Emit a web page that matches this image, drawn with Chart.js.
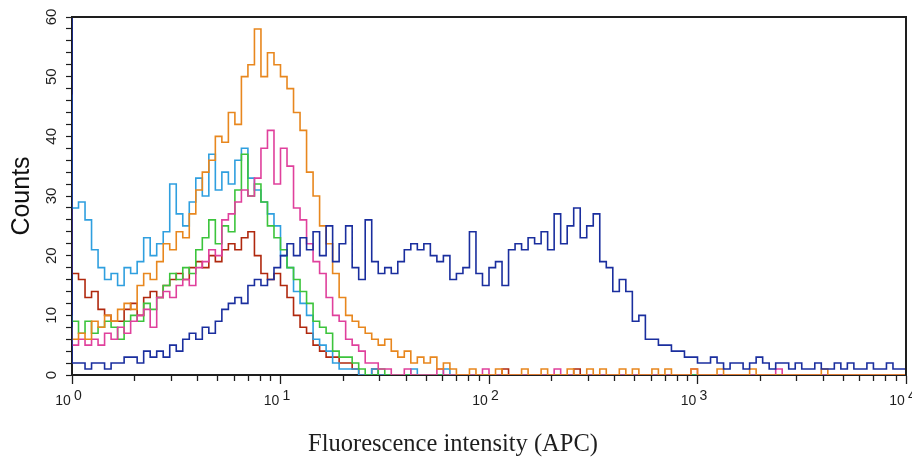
<!DOCTYPE html>
<html>
<head>
<meta charset="utf-8">
<script src="https://cdn.jsdelivr.net/npm/chart.js@4.4.1/dist/chart.umd.min.js"></script>
<style>
  html, body { margin: 0; padding: 0; background: #fff; }
  #wrap { width: 912px; height: 462px; }
</style>
</head>
<body>
<div id="wrap"><canvas id="histo" width="912" height="462"></canvas></div>
<script>
// channels: 32 bins per decade over 4 decades (10^0 .. 10^4)
const binsPerDecade = 32;
const xDecades = [0, 1, 2, 3, 4];
const minorSteps = [2, 3, 4, 5, 6, 7, 8, 9];

// counts per bin (first value = pile-up at 10^0, last = overflow at 10^4)
const navyFirst = 60, navyLast = 5;
const navy = [
  2, 2, 1, 2, 2, 1, 2, 2, 3, 3,
  2, 4, 3, 4, 3, 5, 4, 6, 7, 6,
  8, 7, 9, 11, 12, 13, 12, 15, 16, 15,
  16, 18, 20, 22, 20, 23, 21, 24, 20, 25,
  19, 22, 25, 18, 16, 26, 19, 17, 18, 17,
  19, 21, 22, 21, 22, 20, 19, 20, 16, 17,
  18, 24, 17, 15, 18, 19, 15, 21, 22, 21,
  23, 22, 24, 21, 27, 22, 25, 28, 23, 25,
  27, 19, 18, 14, 16, 14, 9, 10, 6, 6,
  5, 5, 4, 4, 3, 3, 2, 2, 3, 2,
  1, 2, 2, 1, 2, 3, 2, 1, 2, 2,
  1, 2, 1, 1, 2, 1, 1, 2, 1, 2,
  1, 1, 2, 1, 1, 2, 1, 1
];

const skyFirst = 47, skyLast = 0;
const sky = [
  28, 29, 26, 21, 18, 16, 17, 15, 18, 17,
  19, 23, 20, 22, 24, 32, 27, 25, 29, 33,
  30, 37, 31, 34, 32, 36, 38, 33, 31, 29,
  27, 25, 20, 18, 14, 12, 10, 6, 5, 4,
  2, 1, 1, 1, 0, 0, 1, 0, 0, 0,
  0, 0, 1, 0, 0, 0, 0, 1, 0, 0,
  0, 0, 0, 0, 0, 0, 0, 0, 0, 0,
  0, 0, 0, 0, 0, 0, 0, 0, 0, 0,
  0, 0, 0, 0, 0, 0, 0, 0, 0, 0,
  0, 0, 0, 0, 0, 0, 0, 0, 0, 0,
  0, 0, 0, 0, 0, 0, 0, 0, 0, 0,
  0, 0, 0, 0, 0, 0, 0, 0, 0, 0,
  0, 0, 0, 0, 0, 0, 0, 0
];

const orangeFirst = 8, orangeLast = 0;
const orange = [
  6, 7, 6, 9, 8, 10, 9, 11, 12, 11,
  15, 17, 16, 19, 22, 21, 24, 23, 27, 31,
  34, 36, 40, 39, 44, 42, 50, 52, 58, 50,
  54, 52, 50, 48, 44, 41, 34, 30, 25, 22,
  17, 13, 10, 9, 8, 7, 6, 5, 6, 4,
  3, 4, 2, 3, 2, 3, 1, 2, 1, 0,
  0, 1, 0, 0, 0, 1, 0, 0, 0, 1,
  0, 0, 1, 0, 0, 0, 1, 0, 0, 1,
  0, 1, 0, 0, 1, 0, 1, 0, 0, 1,
  0, 1, 0, 0, 0, 1, 0, 0, 0, 1,
  0, 0, 0, 0, 1, 0, 0, 0, 0, 0,
  0, 0, 0, 0, 0, 1, 0, 0, 0, 0,
  0, 0, 0, 0, 0, 0, 0, 0
];

const pinkFirst = 6, pinkLast = 0;
const pink = [
  5, 6, 5, 6, 5, 7, 6, 8, 7, 9,
  10, 11, 8, 13, 14, 13, 15, 16, 15, 18,
  19, 21, 20, 26, 27, 29, 31, 30, 33, 38,
  41, 32, 38, 35, 28, 26, 22, 19, 17, 13,
  10, 9, 6, 5, 4, 2, 2, 1, 1, 0,
  0, 1, 0, 0, 0, 0, 1, 0, 0, 0,
  0, 0, 0, 1, 0, 0, 0, 0, 0, 0,
  0, 0, 0, 0, 1, 0, 0, 0, 0, 0,
  0, 0, 0, 0, 0, 0, 0, 0, 0, 0,
  0, 0, 0, 0, 0, 1, 0, 0, 0, 0,
  0, 0, 0, 0, 0, 0, 0, 0, 1, 0,
  0, 0, 0, 0, 0, 0, 0, 0, 0, 0,
  0, 0, 0, 0, 0, 0, 0, 0
];

const greenFirst = 10, greenLast = 0;
const green = [
  9, 7, 9, 7, 8, 9, 8, 6, 9, 10,
  9, 12, 11, 13, 15, 17, 16, 18, 17, 21,
  23, 26, 22, 25, 24, 31, 37, 30, 32, 29,
  25, 23, 21, 18, 16, 14, 12, 9, 8, 7,
  4, 3, 3, 2, 1, 0, 0, 1, 0, 0,
  0, 0, 0, 0, 0, 0, 0, 0, 0, 0,
  0, 0, 0, 0, 0, 0, 0, 0, 0, 0,
  0, 0, 0, 0, 0, 0, 0, 0, 0, 0,
  0, 0, 0, 0, 0, 0, 0, 0, 0, 0,
  0, 0, 0, 0, 0, 0, 0, 0, 0, 0,
  0, 0, 0, 0, 0, 0, 0, 0, 0, 0,
  0, 0, 0, 0, 0, 0, 0, 0, 0, 0,
  0, 0, 0, 0, 0, 0, 0, 0
];

const redFirst = 33, redLast = 0;
const red = [
  17, 16, 13, 14, 11, 10, 9, 9, 11, 12,
  10, 13, 14, 13, 15, 16, 17, 16, 18, 19,
  18, 20, 19, 21, 22, 21, 23, 24, 20, 17,
  16, 17, 15, 13, 10, 8, 7, 5, 4, 3,
  3, 2, 2, 1, 0, 0, 1, 0, 0, 0,
  0, 0, 0, 0, 0, 0, 0, 0, 0, 0,
  0, 0, 0, 0, 0, 0, 1, 0, 0, 0,
  0, 0, 0, 0, 0, 0, 0, 1, 0, 0,
  0, 0, 0, 0, 0, 0, 0, 0, 0, 0,
  0, 0, 0, 0, 0, 0, 0, 0, 0, 0,
  0, 0, 0, 0, 0, 0, 0, 0, 0, 0,
  0, 0, 0, 0, 0, 0, 0, 0, 0, 0,
  0, 0, 0, 0, 0, 0, 0, 0
];

// bin i ends at 10^(i/32); stepped 'after' holds each count across its bin
function toPoints(first, bins, last) {
  const pts = [{ x: 1, y: first }];
  bins.forEach((v, i) => pts.push({ x: Math.pow(10, (i + 1) / binsPerDecade), y: v }));
  pts.push({ x: Math.pow(10, xDecades[xDecades.length - 1]), y: last });
  return pts;
}

function series(label, first, bins, last, color) {
  return {
    label: label,
    data: toPoints(first, bins, last),
    borderColor: color,
    borderWidth: 1.6,
    pointRadius: 0,
    stepped: 'after',
    fill: false
  };
}

const sans = '"Liberation Sans", Arial, sans-serif';
const ink = '#1e1e1e';

const majorTicks = xDecades.map(p => Math.pow(10, p));
const allTicks = [];
xDecades.forEach(p => {
  allTicks.push(Math.pow(10, p));
  if (p < xDecades[xDecades.length - 1]) minorSteps.forEach(m => allTicks.push(m * Math.pow(10, p)));
});
const isMajor = v => majorTicks.includes(v);

// black frame on top and right of the plot
const frame = {
  id: 'frame',
  afterDatasetsDraw(chart) {
    const { ctx, chartArea: a } = chart;
    ctx.save();
    ctx.strokeStyle = ink;
    ctx.lineWidth = 2;
    ctx.beginPath();
    ctx.moveTo(a.left, a.top);
    ctx.lineTo(a.right, a.top);
    ctx.lineTo(a.right, a.bottom);
    ctx.stroke();
    ctx.restore();
  }
};

// raised exponent next to each "10"
const exponents = {
  id: 'exponents',
  afterDraw(chart) {
    const s = chart.scales.x;
    const ctx = chart.ctx;
    ctx.save();
    ctx.font = '14px ' + sans;
    ctx.fillStyle = ink;
    ctx.textAlign = 'left';
    ctx.textBaseline = 'middle';
    xDecades.forEach(p => {
      ctx.fillText(String(p), s.getPixelForValue(Math.pow(10, p)) + 2, s.top + 21);
    });
    ctx.restore();
  }
};

const ctx = document.getElementById('histo').getContext('2d');
const chart = new Chart(ctx, {
  type: 'line',
  data: {
    datasets: [
      series('navy', navyFirst, navy, navyLast, '#1a2e9e'),
      series('orange', orangeFirst, orange, orangeLast, '#e8871e'),
      series('pink', pinkFirst, pink, pinkLast, '#e0409c'),
      series('green', greenFirst, green, greenLast, '#3cc43c'),
      series('sky', skyFirst, sky, skyLast, '#2f9fdf'),
      series('red', redFirst, red, redLast, '#b0280e')
    ]
  },
  options: {
    responsive: false,
    animation: false,
    devicePixelRatio: 1,
    layout: { autoPadding: false, padding: { top: 17, right: 6, left: 0, bottom: 0 } },
    plugins: {
      legend: { display: false },
      tooltip: { enabled: false },
      title: {
        display: true,
        position: 'bottom',
        text: 'Fluorescence intensity (APC)',
        color: ink,
        padding: { top: 0, bottom: 3 },
        font: { family: '"Liberation Serif", "Times New Roman", serif', size: 24.5, weight: 'normal', lineHeight: 1.2 }
      }
    },
    scales: {
      x: {
        type: 'logarithmic',
        position: 'bottom',
        min: 1,
        max: 10000,
        afterBuildTicks: s => { s.ticks = allTicks.map(v => ({ value: v })); },
        afterFit: s => {
          s.height = 462 - 375 - 32.4;
          s.paddingLeft = 0;
          s.paddingRight = 0;
        },
        grid: {
          drawOnChartArea: false,
          drawTicks: true,
          tickLength: 9,
          color: ink,
          tickWidth: 1.3,
          tickBorderDash: c => (c.tick && isMajor(c.tick.value) ? [] : [5, 30])
        },
        border: { display: true, color: ink, width: 2 },
        ticks: {
          autoSkip: false,
          minRotation: 0,
          maxRotation: 0,
          padding: 9,
          labelOffset: -9,
          color: ink,
          font: { family: sans, size: 14 },
          callback: v => (isMajor(v) ? '10' : '')
        }
      },
      y: {
        min: 0,
        max: 60,
        afterFit: s => {
          s.width = 72;
          s.paddingTop = 0;
          s.paddingBottom = 0;
        },
        grid: { drawOnChartArea: false, drawTicks: true, tickLength: 6, color: ink, tickWidth: 1.2 },
        border: { display: true, color: ink, width: 2 },
        ticks: {
          stepSize: 2,
          autoSkip: false,
          minRotation: 90,
          maxRotation: 90,
          crossAlign: 'center',
          padding: 6,
          color: ink,
          font: { family: sans, size: 15 },
          callback: v => (v % 10 === 0 ? String(v) : '')
        },
        title: {
          display: true,
          text: 'Counts',
          color: '#111',
          padding: 0,
          font: { family: sans, size: 25, lineHeight: 1.8 }
        }
      }
    }
  },
  plugins: [frame, exponents]
});
</script>
</body>
</html>
